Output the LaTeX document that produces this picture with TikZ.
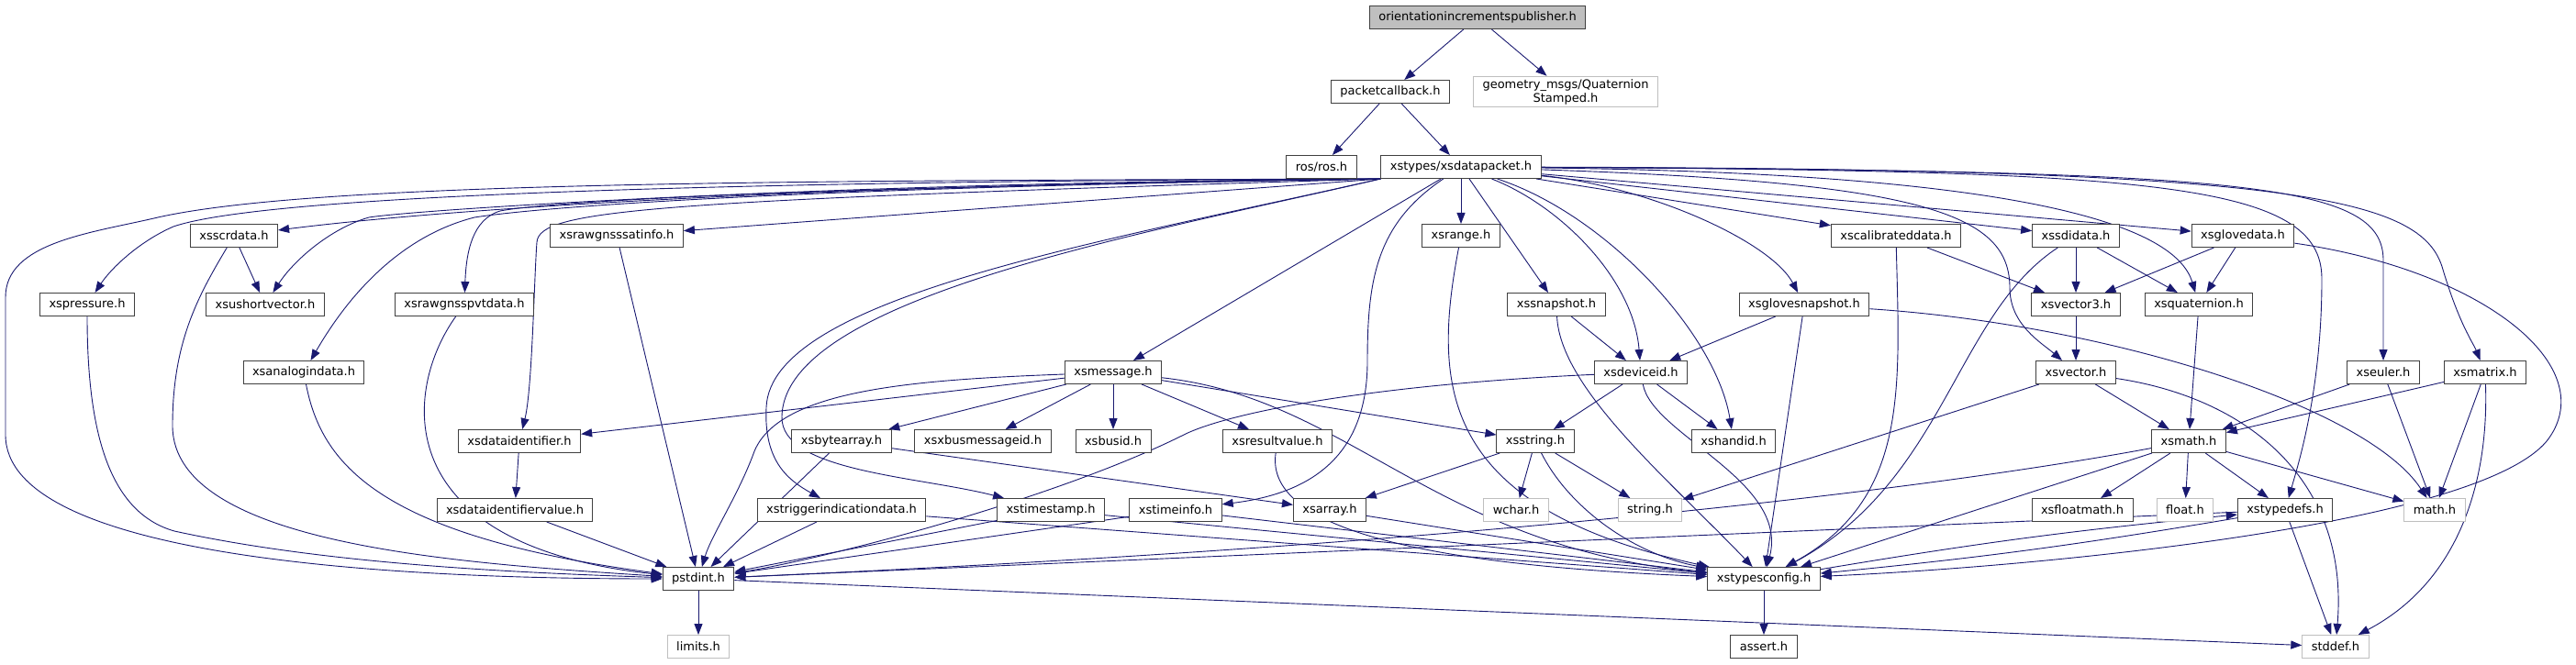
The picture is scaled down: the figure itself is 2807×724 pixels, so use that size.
\documentclass[tikz,border=0pt]{standalone}
\usepackage{fontspec}
\setmainfont{DejaVu Sans}
\usetikzlibrary{arrows.meta}
\usetikzlibrary{backgrounds}
\definecolor{edgeblue}{HTML}{191970}
\definecolor{boxgrey}{HTML}{BFBFBF}
\definecolor{boxline}{HTML}{404040}

\begin{document}
\begin{tikzpicture}
	[x=1pt,y=1pt,
	 every node/.style={rectangle,draw=boxline,line width=1pt,fill=white,font=\fontsize{13}{15}\selectfont,inner xsep=10pt,inner ysep=2pt,minimum height=25pt},
	 sys/.style={draw=boxgrey},
	 cur/.style={fill=boxgrey},
	 dep/.style={draw=edgeblue,line width=0.9pt,-{Triangle[length=12pt,width=9pt]}}]
	\useasboundingbox (0,0) rectangle (2807,724);

	\node[cur] (pub) at (1610,705) {orientationincrementspublisher.h};
	\node (pcb) at (1515,624) {packetcallback.h};
	\node[sys,align=center,inner ysep=3pt] (geo) at (1706,624) {geometry\_msgs/Quaternion\\Stamped.h};
	\node (ros) at (1440,542) {ros/ros.h};
	\node (dp) at (1592,542) {xstypes/xsdatapacket.h};

	\node (scr) at (255,467) {xsscrdata.h};
	\node (satinfo) at (672,467) {xsrawgnsssatinfo.h};
	\node (range) at (1592,467) {xsrange.h};
	\node (calib) at (2066,467) {xscalibrateddata.h};
	\node (sdi) at (2262,467) {xssdidata.h};
	\node (glove) at (2444,467) {xsglovedata.h};

	\node (pressure) at (95,392) {xspressure.h};
	\node (ushort) at (289,392) {xsushortvector.h};
	\node (pvt) at (506,392) {xsrawgnsspvtdata.h};
	\node (snap) at (1696,392) {xssnapshot.h};
	\node (glovesnap) at (1966,392) {xsglovesnapshot.h};
	\node (vec3) at (2262,392) {xsvector3.h};
	\node (quat) at (2396,392) {xsquaternion.h};

	\node (analog) at (331,318) {xsanalogindata.h};
	\node (msg) at (1213,318) {xsmessage.h};
	\node (devid) at (1788,318) {xsdeviceid.h};
	\node (vec) at (2262,318) {xsvector.h};
	\node (euler) at (2597,318) {xseuler.h};
	\node (matrix) at (2708,318) {xsmatrix.h};

	\node (dataid) at (566,243) {xsdataidentifier.h};
	\node (bytearray) at (917,243) {xsbytearray.h};
	\node (busmsg) at (1071,243) {xsxbusmessageid.h};
	\node (busid) at (1213,243) {xsbusid.h};
	\node (result) at (1392,243) {xsresultvalue.h};
	\node (str) at (1673,243) {xsstring.h};
	\node (handid) at (1889,243) {xshandid.h};
	\node (math) at (2385,243) {xsmath.h};

	\node (dataidval) at (561,168) {xsdataidentifiervalue.h};
	\node (trigger) at (917,168) {xstriggerindicationdata.h};
	\node (tstamp) at (1145,168) {xstimestamp.h};
	\node (tinfo) at (1281,168) {xstimeinfo.h};
	\node (arr) at (1449,168) {xsarray.h};
	\node[sys] (wchar) at (1652,168) {wchar.h};
	\node[sys] (strh) at (1798,168) {string.h};
	\node (fmath) at (2269,168) {xsfloatmath.h};
	\node[sys] (floath) at (2381,168) {float.h};
	\node (tdefs) at (2490,168) {xstypedefs.h};
	\node[sys] (mathh) at (2653,168) {math.h};

	\node (pstdint) at (761,93) {pstdint.h};
	\node (config) at (1922,93) {xstypesconfig.h};
	\node[sys] (limits) at (761,19) {limits.h};
	\node (assert) at (1922,19) {assert.h};
	\node[sys] (stddef) at (2545,19) {stddef.h};

	\begin{pgfonlayer}{background}
	\foreach \from/\to in
		{pub/pcb, pub/geo, pcb/ros, pcb/dp, dp/msg, dp/range, dp/snap, dp/calib, dp/sdi, dp/glove,
		 scr/ushort, satinfo/pstdint, dataid/dataidval, dataidval/pstdint,
		 msg/dataid, msg/bytearray, msg/busmsg, msg/busid, msg/result, msg/str,
		 bytearray/arr, bytearray/pstdint, str/arr, str/wchar, str/strh, arr/config,
		 trigger/pstdint, trigger/config, tstamp/pstdint, tstamp/config, tinfo/pstdint, tinfo/config,
		 snap/devid, devid/str, devid/handid, glovesnap/devid, glovesnap/config,
		 calib/vec3, sdi/vec3, sdi/quat, glove/vec3, glove/quat, vec3/vec, quat/math,
		 vec/math, vec/strh, euler/math, euler/mathh, matrix/math, matrix/mathh,
		 math/config, math/fmath, math/floath, math/tdefs, math/mathh,
		 tdefs/pstdint, tdefs/stddef, config/assert, pstdint/limits, pstdint/stddef}
		\draw[dep] (\from) -- (\to);

	% xsdatapacket.h to the left
	\draw[dep] (dp.south west) -- (satinfo);
	\draw[dep] (dp.south west) .. controls (900,527) and (350,527) .. (172,487) .. controls (100,470) and (6,460) .. (6,400) -- (6,250) .. controls (6,120) and (400,93) .. (pstdint);
	\draw[dep] (dp.south west) .. controls (900,522) and (500,498) .. (scr);
	\draw[dep] (dp.south west) .. controls (900,527) and (300,515) .. (189,477) .. controls (150,460) and (120,430) .. (pressure);
	\draw[dep] (dp.south west) .. controls (900,525) and (450,495) .. (402,487) .. controls (360,475) and (320,440) .. (ushort);
	\draw[dep] (dp.south west) .. controls (900,520) and (600,500) .. (517,487) .. controls (450,470) and (390,420) .. (analog);
	\draw[dep] (dp.south west) .. controls (900,520) and (600,505) .. (545,494) .. controls (515,485) and (508,450) .. (pvt);
	\draw[dep] (dp.south west) .. controls (700,505) and (588,495) .. (585,460) .. controls (582,420) and (580,300) .. (dataid);
	\draw[dep] (dp.south west) .. controls (1200,460) and (840,400) .. (835,280) .. controls (832,220) and (860,200) .. (trigger);
	\draw[dep] (dp.south west) .. controls (1250,470) and (855,400) .. (852,270) .. controls (850,210) and (1000,205) .. (tstamp);
	\draw[dep] (dp) .. controls (1500,480) and (1490,420) .. (1490,330) .. controls (1490,220) and (1420,185) .. (tinfo);

	% xsdatapacket.h to the right
	\draw[dep] (dp) .. controls (1700,500) and (1780,420) .. (devid);
	\draw[dep] (dp) .. controls (1750,490) and (1870,360) .. (handid);
	\draw[dep] (dp) .. controls (1800,520) and (1930,460) .. (glovesnap);
	\draw[dep] (dp) .. controls (2200,535) and (2370,480) .. (quat);
	\draw[dep] (dp) .. controls (2100,525) and (2190,490) .. (2190,410) .. controls (2190,370) and (2225,350) .. (vec);
	\draw[dep] (dp) .. controls (2350,538) and (2530,525) .. (2530,420) .. controls (2530,300) and (2505,220) .. (tdefs);
	\draw[dep] (dp) .. controls (2450,538) and (2597,525) .. (2597,440) -- (euler);
	\draw[dep] (dp) .. controls (2500,540) and (2640,510) .. (2662,430) .. controls (2680,370) and (2695,350) .. (matrix);

	% down to pstdint.h
	\draw[dep] (scr) .. controls (215,400) and (188,350) .. (188,260) .. controls (188,130) and (500,110) .. (pstdint);
	\draw[dep] (pressure) .. controls (95,250) and (120,165) .. (190,145) .. controls (350,110) and (550,100) .. (pstdint);
	\draw[dep] (analog) .. controls (350,220) and (410,140) .. (pstdint);
	\draw[dep] (pvt) .. controls (440,300) and (420,130) .. (pstdint);
	\draw[dep] (msg) .. controls (1000,310) and (850,300) .. (822,232) .. controls (805,185) and (775,140) .. (pstdint);
	\draw[dep] (devid) .. controls (1500,305) and (1340,275) .. (1290,250) .. controls (1150,180) and (900,115) .. (pstdint);
	\draw[dep] (math) .. controls (2100,190) and (1600,130) .. (pstdint);

	% down to xstypesconfig.h
	\draw[dep] (calib) .. controls (2070,300) and (2080,180) .. (config);
	\draw[dep] (sdi) .. controls (2130,380) and (2120,200) .. (config);
	\draw[dep] (glove) .. controls (2700,430) and (2830,330) .. (2780,250) .. controls (2720,150) and (2200,105) .. (config);
	\draw[dep] (devid) .. controls (1800,250) and (1950,200) .. (config);
	\draw[dep] (snap) .. controls (1700,300) and (1820,200) .. (config);
	\draw[dep] (range) .. controls (1560,300) and (1570,170) .. (config);
	\draw[dep] (msg) .. controls (1470,290) and (1560,130) .. (config);
	\draw[dep] (result) .. controls (1380,160) and (1500,110) .. (config);
	\draw[dep] (str) .. controls (1710,170) and (1780,120) .. (config);
	\draw[dep] (config) to[bend left=2] (tdefs);
	\draw[dep] (tdefs) to[bend left=2] (config);

	% system headers
	\draw[dep] (glovesnap) .. controls (2300,370) and (2580,280) .. (mathh);
	\draw[dep] (vec) .. controls (2450,290) and (2560,200) .. (stddef);
	\draw[dep] (matrix) .. controls (2712,200) and (2680,90) .. (stddef);
	\end{pgfonlayer}
\end{tikzpicture}
\end{document}
